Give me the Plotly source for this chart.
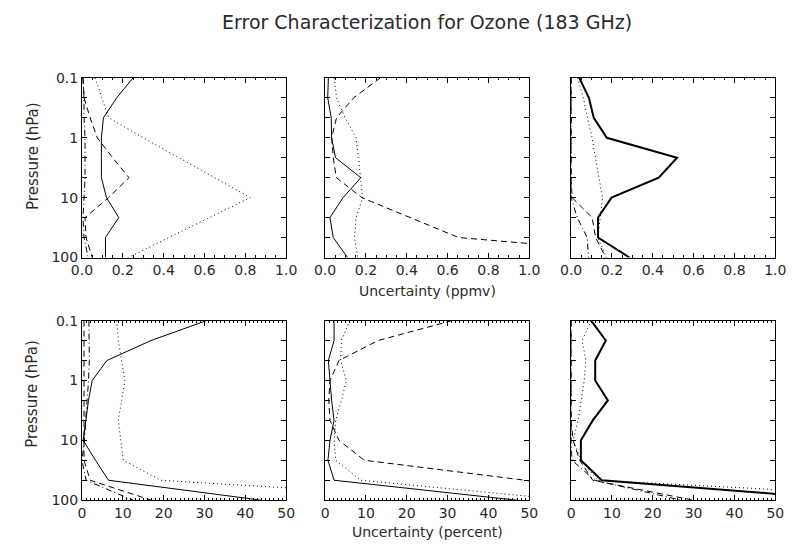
import plotly.graph_objects as go

W, H = 797, 549

# Pressure levels (hPa), every 1/3 decade
pressure = [0.1, 0.215, 0.464, 1.0, 2.15, 4.64, 10.0, 21.5, 46.4, 100.0]

# ---- Top row: Uncertainty (ppmv) ----
tl_solid   = [0.25, 0.17, 0.105, 0.095, 0.095, 0.095, 0.12, 0.18, 0.115, 0.115]
tl_dotted  = [0.064, 0.098, 0.131, 0.30, 0.475, 0.65, 0.824, 0.625, 0.425, 0.227]
tl_dashed  = [0.005, 0.01, 0.04, 0.075, 0.15, 0.23, 0.13, 0.015, 0.02, 0.05]
tl_dashdot = [0.005, 0.01, 0.01, 0.015, 0.015, 0.015, 0.01, 0.005, 0.01, 0.03]

tm_solid   = [0.016, 0.013, 0.03, 0.032, 0.051, 0.175, 0.088, 0.024, 0.04, 0.11]
tm_dotted  = [0.045, 0.056, 0.098, 0.152, 0.163, 0.175, 0.184, 0.152, 0.144, 0.16]
tm_dashed  = [0.271, 0.14, 0.056, 0.032, 0.04, 0.055, 0.18, 0.415, 0.654, 1.8]

tr_solid   = [0.04, 0.087, 0.111, 0.175, 0.519, 0.429, 0.198, 0.132, 0.132, 0.286]
tr_dotted  = [0.032, 0.06, 0.08, 0.103, 0.119, 0.138, 0.154, 0.143, 0.13, 0.175]
tr_dashed  = [0.0, 0.0, 0.0, 0.0, 0.0, 0.0, 0.005, 0.103, 0.12, 0.17]
tr_dashdot = [0.0, 0.0, 0.0, 0.0, 0.0, 0.0, 0.0, 0.03, 0.079, 0.085]

# ---- Bottom row: Uncertainty (percent) ----
bl_solid   = [30.5, 16.9, 6.1, 2.5, 1.6, 1.0, 0.3, 3.3, 6.5, 44]
bl_dotted  = [8.5, 8.9, 9.7, 10.5, 9.7, 8.9, 9.5, 10.1, 19.3, 100]
bl_dashed  = [0.5, 0.5, 0.5, 0.5, 0.5, 0.5, 0.5, 0.5, 2.0, 17]
bl_dashdot = [1.7, 1.8, 1.8, 1.6, 1.2, 0.9, 0.6, 0.0, 1.0, 12.5]

bm_solid   = [2.2, 2.2, 0.8, 1.2, 1.6, 2.2, 1.2, 0.7, 2.2, 47]
bm_dotted  = [6.0, 4.0, 3.8, 5.2, 4.0, 2.6, 2.2, 2.6, 8.8, 60]
bm_dashed  = [31.1, 13, 3.4, 1.2, 0.9, 1.2, 3.4, 9.6, 49, 80]

br_solid   = [4.9, 8.5, 5.9, 5.9, 9.0, 5.3, 2.4, 2.4, 7.5, 70]
br_dotted  = [4.9, 2.7, 3.6, 3.2, 2.5, 1.7, 0.5, 2.5, 6.5, 100]
br_dashed  = [0.0, 0.0, 0.0, 0.0, 0.0, 0.0, 0.5, 2.1, 5.3, 30]
br_dashdot = [0.0, 0.0, 0.0, 0.0, 0.0, 0.0, 0.0, 0.2, 5.8, 27]

title_text = "Error Characterization for Ozone (183 GHz)"
ytitle = "Pressure (hPa)"
xtitle_top = "Uncertainty (ppmv)"
xtitle_bot = "Uncertainty (percent)"

DASH = {"solid": "solid", "dot": "1px,3px", "dash": "6px,4px", "dashdot": "6px,3px,1px,3px"}

panels = [
    [(tl_solid, "solid", 1), (tl_dotted, "dot", 1), (tl_dashed, "dash", 1), (tl_dashdot, "dashdot", 1)],
    [(tm_solid, "solid", 1), (tm_dotted, "dot", 1), (tm_dashed, "dash", 1)],
    [(tr_solid, "solid", 2), (tr_dotted, "dot", 1), (tr_dashed, "dash", 1), (tr_dashdot, "dashdot", 1)],
    [(bl_solid, "solid", 1), (bl_dotted, "dot", 1), (bl_dashed, "dash", 1), (bl_dashdot, "dashdot", 1)],
    [(bm_solid, "solid", 1), (bm_dotted, "dot", 1), (bm_dashed, "dash", 1)],
    [(br_solid, "solid", 2), (br_dotted, "dot", 1), (br_dashed, "dash", 1), (br_dashdot, "dashdot", 1)],
]

# pixel geometry -> paper
xdom_px = [(73, 283), (323, 533), (576, 786)]
ydom_px = [(72, 257), (322, 507)]

def px2x(p):
    return p / W

def px2y(p):
    return 1 - p / H

FONT = "DejaVu Sans"
TXT = "#2a2a2a"
fig = go.Figure()

decade_text = {0.1: "0.1", 1.0: "1", 10.0: "10", 100.0: "100"}

for i, series in enumerate(panels):
    r, c = divmod(i, 3)
    n = i + 1
    xa = "x" if n == 1 else f"x{n}"
    ya = "y" if n == 1 else f"y{n}"
    for vals, style, w in series:
        fig.add_trace(go.Scatter(
            x=vals, y=pressure, mode="lines", xaxis=xa, yaxis=ya,
            line=dict(color="black", width=w, dash=DASH[style]),
            showlegend=False, hoverinfo="skip"))
    x0, x1 = xdom_px[c]
    y0, y1 = ydom_px[r]
    if r == 0:
        xr, dt, mdt, fmt = [0, 1.0], 0.2, 0.05, ".1f"
    else:
        xr, dt, mdt, fmt = [0, 50], 10, 1, "d"
    xkey = "xaxis" if n == 1 else f"xaxis{n}"
    ykey = "yaxis" if n == 1 else f"yaxis{n}"
    fig.layout[xkey] = dict(
        domain=[px2x(x0), px2x(x1)], range=xr, anchor=ya,
        dtick=dt, tick0=0, tickformat=fmt, ticks="inside", ticklen=5,
        tickcolor="black", tickwidth=1,
        minor=dict(dtick=mdt, tick0=0, ticks="inside", ticklen=2.5, tickcolor="black"),
        showline=True, linecolor="black", linewidth=1, mirror="allticks",
        showgrid=False, zeroline=False,
        tickfont=dict(family=FONT, size=14, color=TXT))
    fig.layout[ykey] = dict(
        domain=[px2y(y1), px2y(y0)], type="log", range=[2, -1], anchor=xa,
        tickvals=pressure,
        ticktext=[decade_text.get(p, "") if c == 0 else "" for p in pressure],
        ticks="inside", ticklen=5, tickcolor="black", tickwidth=1,
        showline=True, linecolor="black", linewidth=1, mirror="allticks",
        showgrid=False, zeroline=False,
        tickfont=dict(family=FONT, size=14, color=TXT))

annotations = [
    dict(text=title_text, x=px2x(428), y=px2y(14), xref="paper", yref="paper",
         showarrow=False, font=dict(family=FONT, size=19, color=TXT),
         xanchor="center", yanchor="middle"),
    dict(text=xtitle_top, x=px2x(428), y=px2y(291), xref="paper", yref="paper",
         showarrow=False, font=dict(family=FONT, size=14, color=TXT),
         xanchor="center", yanchor="middle"),
    dict(text=xtitle_bot, x=px2x(428), y=px2y(540), xref="paper", yref="paper",
         showarrow=False, font=dict(family=FONT, size=14, color=TXT),
         xanchor="center", yanchor="middle"),
]
for yc in (152, 397):
    annotations.append(dict(text=ytitle, x=px2x(22), y=px2y(yc),
                            xref="paper", yref="paper", showarrow=False, textangle=-90,
                            font=dict(family=FONT, size=15, color=TXT),
                            xanchor="center", yanchor="middle"))

fig.update_layout(
    width=W, height=H, margin=dict(l=0, r=0, t=0, b=0),
    paper_bgcolor="white", plot_bgcolor="white",
    annotations=annotations, showlegend=False)

fig.write_html("out.html")
